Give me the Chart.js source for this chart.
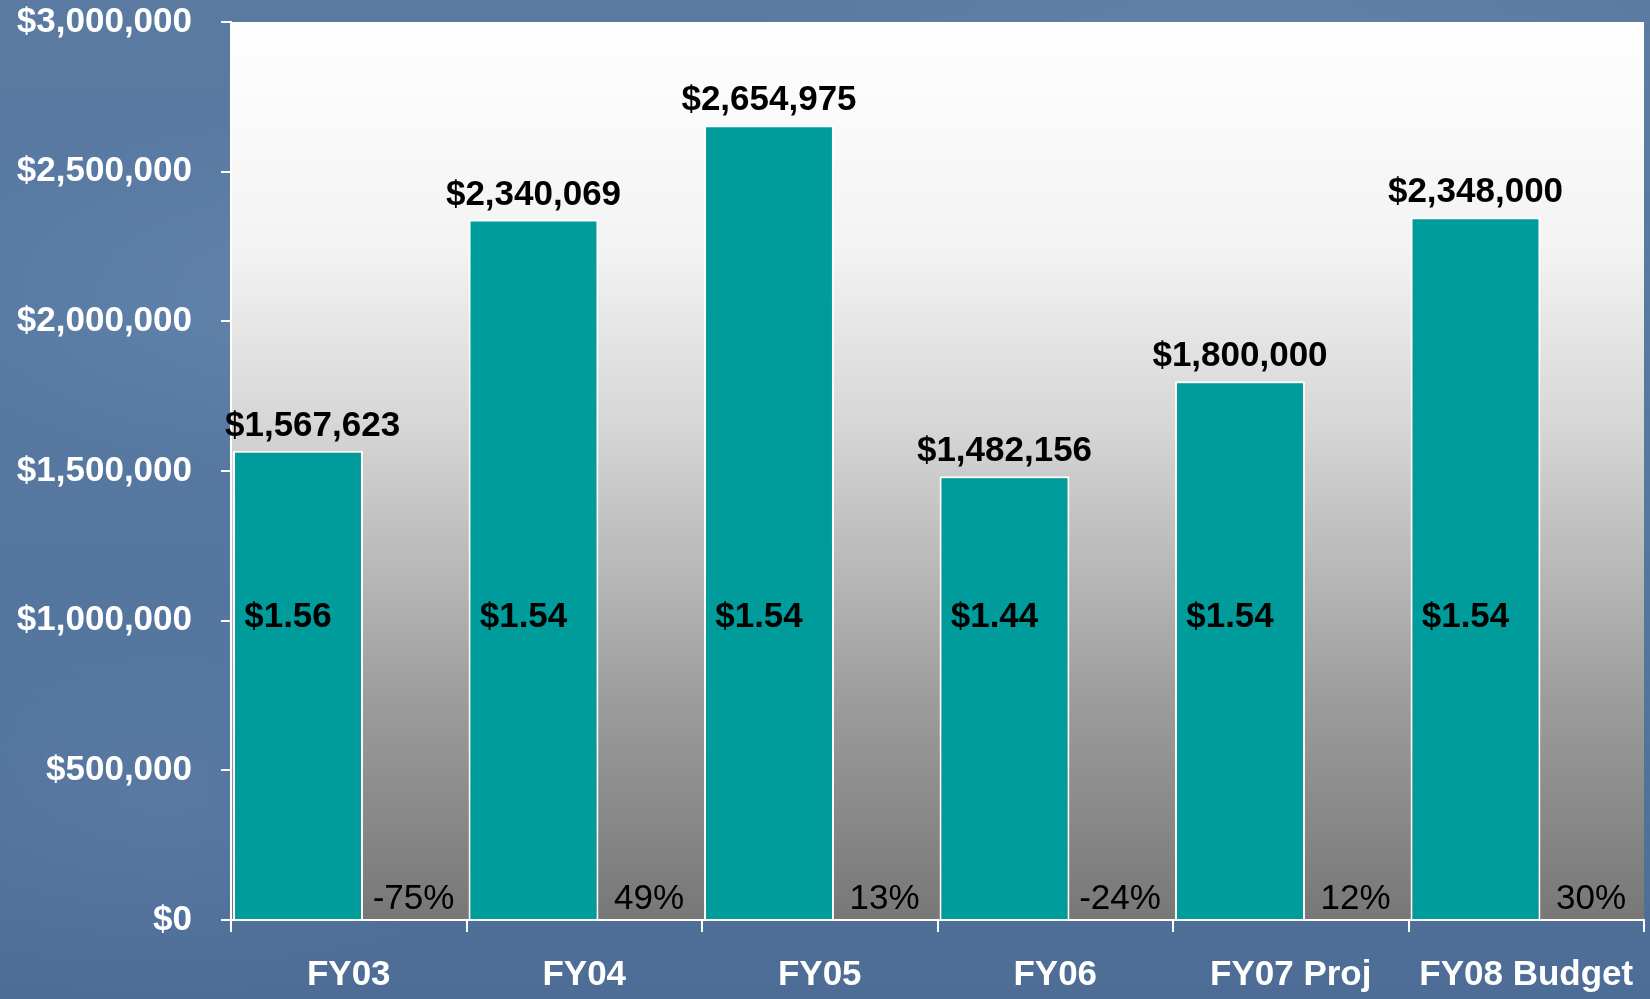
<!DOCTYPE html>
<html>
<head>
<meta charset="utf-8">
<script src="https://cdn.jsdelivr.net/npm/chart.js@4.4.0/dist/chart.umd.js"></script>
<style>
    html, body {
        margin: 0;
        padding: 0;
    }
    body {
        width: 1650px;
        height: 999px;
        overflow: hidden;
        background-color: #56779f;
        background-image:
            radial-gradient(ellipse 420px 180px at 20% 30%, rgba(130, 160, 200, 0.25), transparent),
            radial-gradient(ellipse 500px 220px at 75% 8%, rgba(130, 160, 200, 0.22), transparent),
            radial-gradient(ellipse 380px 200px at 10% 80%, rgba(120, 150, 190, 0.2), transparent),
            linear-gradient(180deg, #5a7aa2 0%, #5678a0 50%, #4d6d96 100%);
    }
    #wrap {
        position: relative;
        width: 1650px;
        height: 999px;
    }
</style>
</head>
<body>
<div id="wrap"><canvas id="revenue-chart"></canvas></div>
<script>
// Chart data
const categories = ['FY03', 'FY04', 'FY05', 'FY06', 'FY07 Proj', 'FY08 Budget'];
const revenue = [1567623, 2340069, 2654975, 1482156, 1800000, 2348000];
const perUnit = ['$1.56', '$1.54', '$1.54', '$1.44', '$1.54', '$1.54'];
const change = ['-75%', '49%', '13%', '-24%', '12%', '30%'];
const yTicks = [0, 500000, 1000000, 1500000, 2000000, 2500000, 3000000];

const FONT = "'Liberation Sans', Arial, sans-serif";

function formatMoney(value) {
    return '$' + value.toLocaleString('en-US');
}

// Gray gradient behind the plot
const plotBackground = {
    id: 'plotBackground',
    beforeDraw(chart) {
        const { ctx, chartArea } = chart;
        const grad = ctx.createLinearGradient(0, chartArea.top, 0, chartArea.bottom);
        grad.addColorStop(0, '#ffffff');
        grad.addColorStop(0.25, '#f3f3f3');
        grad.addColorStop(0.45, '#d6d6d6');
        grad.addColorStop(0.75, '#9d9d9d');
        grad.addColorStop(1, '#777777');
        ctx.save();
        ctx.fillStyle = grad;
        ctx.fillRect(chartArea.left, chartArea.top, chartArea.right - chartArea.left, chartArea.bottom - chartArea.top);
        ctx.restore();
    }
};

// Value, per-unit and change labels
const barLabels = {
    id: 'barLabels',
    afterDatasetsDraw(chart) {
        const { ctx, chartArea } = chart;
        const yScale = chart.scales.y;
        const bars = chart.getDatasetMeta(0).data;
        const gaps = chart.getDatasetMeta(1).data;
        ctx.save();
        ctx.fillStyle = '#000000';
        ctx.textAlign = 'center';
        ctx.textBaseline = 'alphabetic';

        bars.forEach((bar, i) => {
            ctx.font = 'bold 35px ' + FONT;
            const text = formatMoney(revenue[i]);
            const w = ctx.measureText(text).width;
            const x = Math.max(bar.x, chartArea.left - 6 + w / 2);
            ctx.fillText(text, x, bar.y - 15);

            ctx.textBaseline = 'middle';
            ctx.fillText(perUnit[i], bar.x - 10, yScale.getPixelForValue(1010000));
            ctx.textBaseline = 'alphabetic';
        });

        ctx.font = '35px ' + FONT;
        gaps.forEach((gap, i) => {
            ctx.fillText(change[i], gap.x + 14, yScale.getPixelForValue(0) - 11);
        });
        ctx.restore();
    }
};

const ctx = document.getElementById('revenue-chart');
new Chart(ctx.getContext('2d'), {
    type: 'bar',
    data: {
        labels: categories,
        datasets: [
            {
                label: 'Revenue',
                data: revenue,
                backgroundColor: '#009b9b',
                borderColor: '#ffffff',
                borderWidth: 2,
                borderSkipped: 'bottom',
                categoryPercentage: 0.862,
                barPercentage: 1.28
            },
            {
                label: 'Change',
                data: revenue.map(() => 0),
                backgroundColor: 'rgba(0, 0, 0, 0)',
                borderWidth: 0,
                categoryPercentage: 0.862,
                barPercentage: 1.0
            }
        ]
    },
    options: {
        responsive: true,
        maintainAspectRatio: false,
        animation: false,
        layout: {
            padding: { top: 22, right: 6, left: 0, bottom: 0 }
        },
        plugins: {
            legend: { display: false },
            tooltip: { enabled: false }
        },
        scales: {
            x: {
                grid: {
                    display: true,
                    drawOnChartArea: false,
                    offset: true,
                    color: '#ffffff',
                    lineWidth: 2,
                    tickLength: 12
                },
                border: {
                    display: true,
                    color: '#ffffff',
                    width: 2
                },
                ticks: {
                    color: '#ffffff',
                    padding: 22,
                    maxRotation: 0,
                    font: { family: FONT, size: 35, weight: 'bold' }
                },
                afterFit(scale) {
                    scale.height = 79;
                    scale.paddingLeft = 0;
                    scale.paddingRight = 0;
                }
            },
            y: {
                min: 0,
                max: 3000000,
                afterBuildTicks(scale) {
                    scale.ticks = yTicks.map(v => ({ value: v }));
                },
                grid: {
                    display: true,
                    drawOnChartArea: false,
                    color: '#ffffff',
                    lineWidth: 2,
                    tickLength: 10
                },
                border: {
                    display: true,
                    color: '#ffffff',
                    width: 2
                },
                ticks: {
                    color: '#ffffff',
                    padding: 29,
                    font: { family: FONT, size: 35, weight: 'bold' },
                    callback: function(value) {
                        return formatMoney(value);
                    }
                },
                afterFit(scale) {
                    scale.width = 231;
                    scale.paddingTop = 0;
                    scale.paddingBottom = 0;
                }
            }
        }
    },
    plugins: [plotBackground, barLabels]
});
</script>
</body>
</html>
